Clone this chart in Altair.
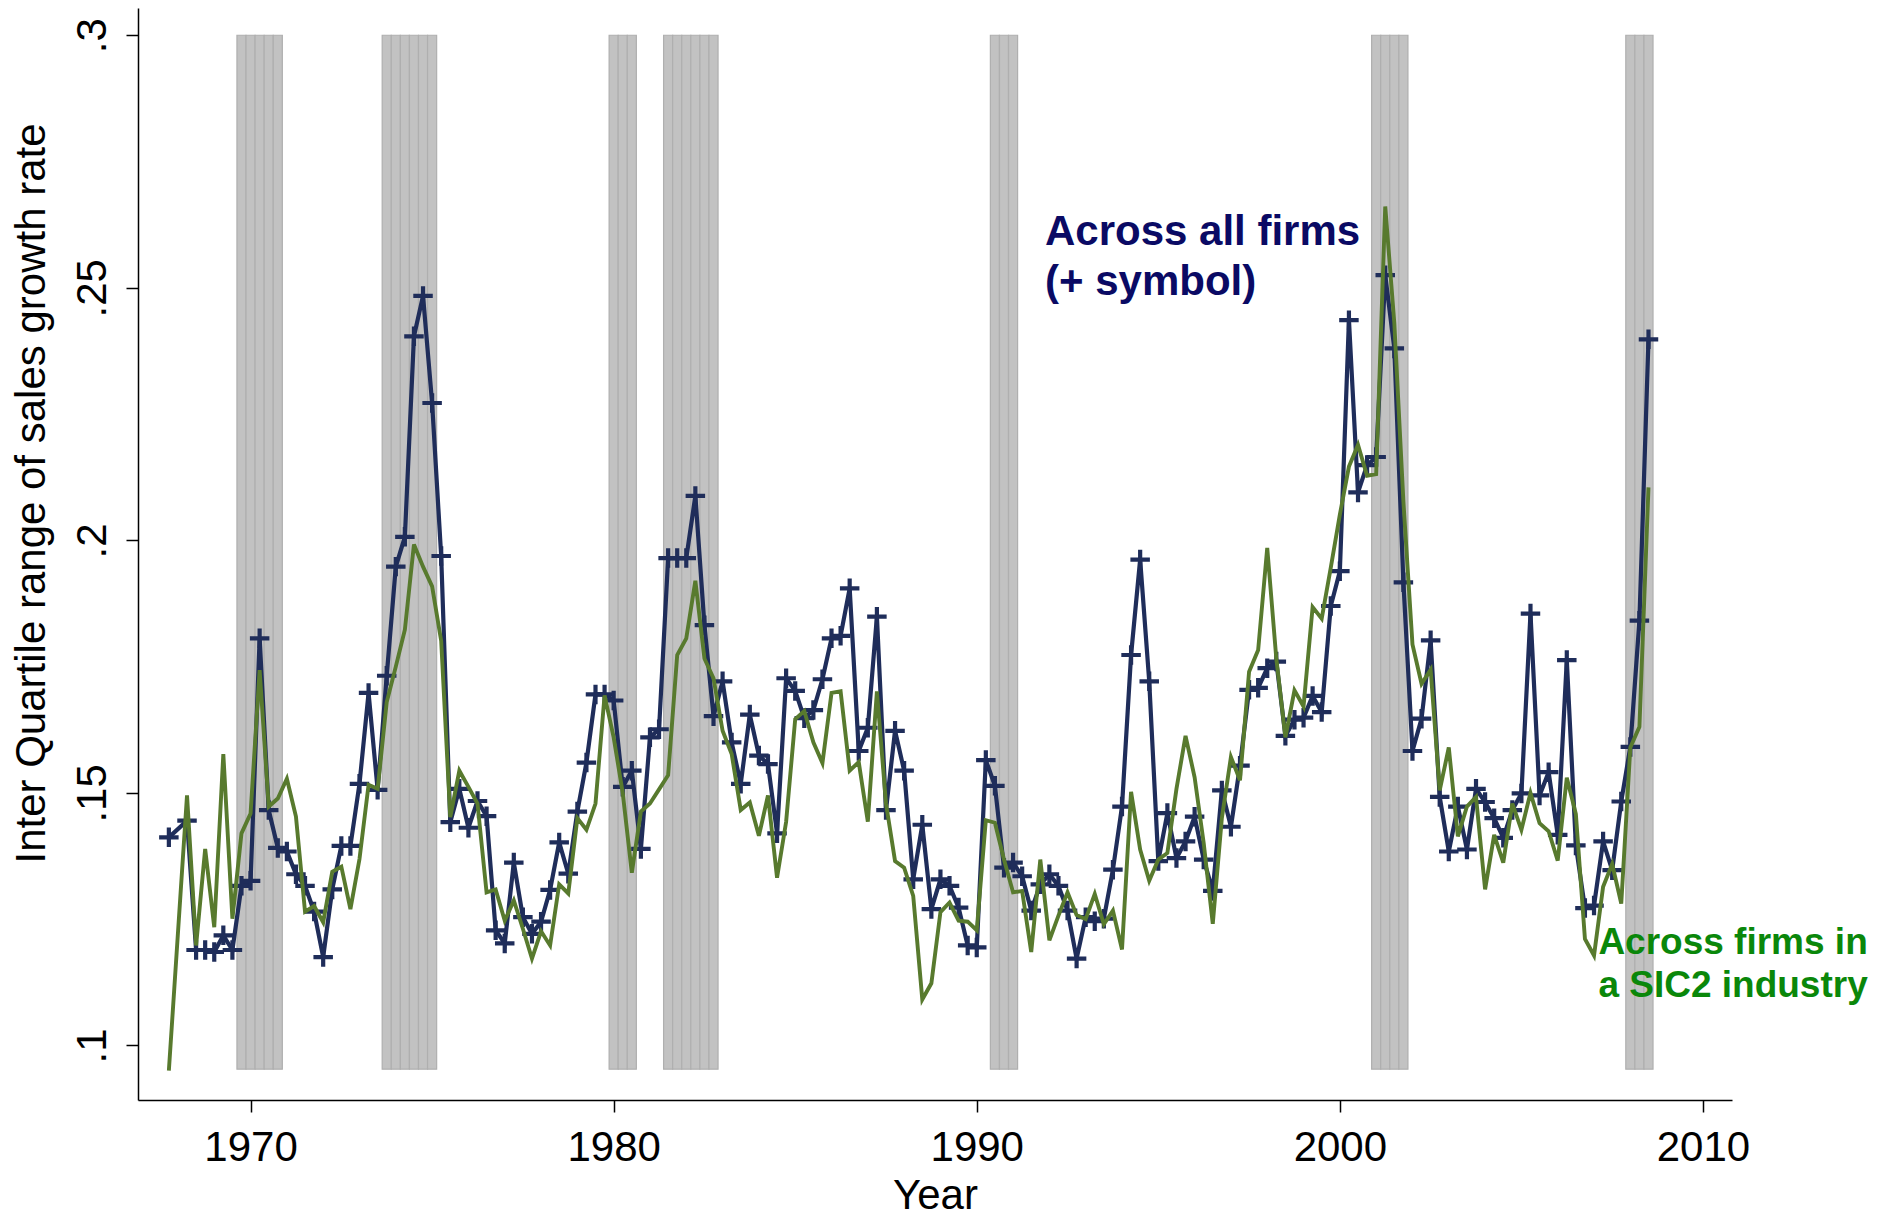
import altair as alt
import pandas as pd

# ---------------- data ----------------
quarter_labels = ["1967q4"] + [
    f"{y}q{q}" for y in range(1968, 2009) for q in (1, 2, 3, 4)
    if not (y == 1968 and q == 1) and not (y == 2008 and q == 4)
]

iqr_all_firms = [
    0.1412,                                   # 1967
    0.1445, 0.1189, 0.1189,                   # 1968 q2-q4
    0.1185, 0.1218, 0.1189, 0.1316,           # 1969
    0.1326, 0.1806, 0.1466, 0.1391,           # 1970
    0.1384, 0.1339, 0.1316, 0.1265,           # 1971
    0.1175, 0.1309, 0.1395, 0.1395,           # 1972
    0.1518, 0.1698, 0.1506, 0.1732,           # 1973
    0.1948, 0.2007, 0.2404, 0.2484,           # 1974
    0.2272, 0.1969, 0.1442, 0.1508,           # 1975
    0.1431, 0.1484, 0.1454, 0.1228,           # 1976
    0.1202, 0.1362, 0.1254, 0.1221,           # 1977
    0.1245, 0.1308, 0.1402, 0.1340,           # 1978
    0.1463, 0.1560, 0.1695, 0.1695,           # 1979
    0.1683, 0.1512, 0.1544, 0.1389,           # 1980
    0.1610, 0.1626, 0.1965, 0.1965,           # 1981
    0.1965, 0.2088, 0.1832, 0.1652,           # 1982
    0.1721, 0.1600, 0.1518, 0.1655,           # 1983
    0.1574, 0.1557, 0.1420, 0.1727,           # 1984
    0.1702, 0.1648, 0.1664, 0.1725,           # 1985
    0.1806, 0.1811, 0.1905, 0.1583,           # 1986
    0.1629, 0.1849, 0.1466, 0.1623,           # 1987
    0.1544, 0.1329, 0.1437, 0.1270,           # 1988
    0.1329, 0.1316, 0.1273, 0.1198,           # 1989
    0.1194, 0.1565, 0.1514, 0.1352,           # 1990
    0.1362, 0.1335, 0.1267, 0.1319,           # 1991
    0.1339, 0.1316, 0.1267, 0.1172,           # 1992
    0.1254, 0.1246, 0.1251, 0.1348,           # 1993
    0.1473, 0.1773, 0.1962, 0.1721,           # 1994
    0.1365, 0.1460, 0.1371, 0.1404,           # 1995
    0.1453, 0.1368, 0.1306, 0.1505,           # 1996
    0.1433, 0.1554, 0.1704, 0.1708,           # 1997
    0.1747, 0.1760, 0.1613, 0.1645,           # 1998
    0.1649, 0.1692, 0.1660, 0.1870,           # 1999
    0.1939, 0.2436, 0.2095, 0.2149,           # 2000
    0.2165, 0.2525, 0.2380, 0.1917,           # 2001
    0.1583, 0.1647, 0.1802, 0.1492,           # 2002
    0.1384, 0.1473, 0.1388, 0.1508,           # 2003
    0.1482, 0.1450, 0.1411, 0.1466,           # 2004
    0.1499, 0.1855, 0.1495, 0.1541,           # 2005
    0.1417, 0.1763, 0.1396, 0.1272,           # 2006
    0.1277, 0.1404, 0.1347, 0.1483,           # 2007
    0.1591, 0.1841, 0.2398,                   # 2008 q1-q3
]

iqr_sic2 = [
    0.0950,                                   # 1967
    0.1495, 0.1198, 0.1389,                   # 1968 q2-q4
    0.1234, 0.1577, 0.1251, 0.1420,           # 1969
    0.1459, 0.1743, 0.1473, 0.1489,           # 1970
    0.1528, 0.1453, 0.1265, 0.1276,           # 1971
    0.1244, 0.1344, 0.1354, 0.1270,           # 1972
    0.1369, 0.1516, 0.1508, 0.1680,           # 1973
    0.1750, 0.1823, 0.1992, 0.1948,           # 1974
    0.1909, 0.1801, 0.1452, 0.1544,           # 1975
    0.1512, 0.1479, 0.1303, 0.1309,           # 1976
    0.1247, 0.1287, 0.1231, 0.1172,           # 1977
    0.1226, 0.1198, 0.1319, 0.1301,           # 1978
    0.1450, 0.1427, 0.1479, 0.1693,           # 1979
    0.1610, 0.1500, 0.1342, 0.1463,           # 1980
    0.1479, 0.1507, 0.1535, 0.1773,           # 1981
    0.1806, 0.1920, 0.1766, 0.1727,           # 1982
    0.1623, 0.1577, 0.1466, 0.1481,           # 1983
    0.1415, 0.1495, 0.1332, 0.1443,           # 1984
    0.1646, 0.1662, 0.1600, 0.1559,           # 1985
    0.1698, 0.1701, 0.1544, 0.1561,           # 1986
    0.1443, 0.1701, 0.1479, 0.1365,           # 1987
    0.1352, 0.1296, 0.1091, 0.1123,           # 1988
    0.1264, 0.1283, 0.1247, 0.1245,           # 1989
    0.1228, 0.1446, 0.1441, 0.1368,           # 1990
    0.1303, 0.1306, 0.1185, 0.1368,           # 1991
    0.1208, 0.1257, 0.1303, 0.1258,           # 1992
    0.1250, 0.1300, 0.1240, 0.1267,           # 1993
    0.1190, 0.1502, 0.1388, 0.1326,           # 1994
    0.1368, 0.1381, 0.1508, 0.1613,           # 1995
    0.1531, 0.1401, 0.1241, 0.1450,           # 1996
    0.1571, 0.1525, 0.1740, 0.1783,           # 1997
    0.1985, 0.1766, 0.1610, 0.1703,           # 1998
    0.1671, 0.1868, 0.1845, 0.1946,           # 1999
    0.2051, 0.2146, 0.2189, 0.2128,           # 2000
    0.2131, 0.2661, 0.2430, 0.2077,           # 2001
    0.1794, 0.1716, 0.1744, 0.1505,           # 2002
    0.1590, 0.1414, 0.1473, 0.1492,           # 2003
    0.1309, 0.1417, 0.1362, 0.1479,           # 2004
    0.1427, 0.1500, 0.1440, 0.1424,           # 2005
    0.1366, 0.1530, 0.1458, 0.1211,           # 2006
    0.1178, 0.1314, 0.1359, 0.1281,           # 2007
    0.1590, 0.1631, 0.2105,                   # 2008 q1-q3
]

recession_quarters = [
    "1969q4", "1970q1", "1970q2", "1970q3", "1970q4",
    "1973q4", "1974q1", "1974q2", "1974q3", "1974q4", "1975q1",
    "1980q1", "1980q2", "1980q3",
    "1981q3", "1981q4", "1982q1", "1982q2", "1982q3", "1982q4",
    "1990q3", "1990q4", "1991q1",
    "2001q1", "2001q2", "2001q3", "2001q4",
    "2008q1", "2008q2", "2008q3",
]

x_ticks = [1970, 1980, 1990, 2000, 2010]
y_ticks = [0.10, 0.15, 0.20, 0.25, 0.30]

label_all_lines = ["Across all firms", "(+ symbol)"]
label_all_x = [1991.88, 1991.88]
label_all_y = [0.2611, 0.2511]

label_sic_lines = ["Across firms in", "a SIC2 industry"]
label_sic_x = [2007.12, 2007.12]
label_sic_y = [0.1203, 0.1117]

# ---------------- build tables ----------------
def qpos(label):
    y, q = label.split("q")
    return int(y) + (int(q) - 1) / 4.0

df = pd.DataFrame({
    "t": [qpos(s) for s in quarter_labels],
    "all": iqr_all_firms,
    "sic2": iqr_sic2,
})
rec = pd.DataFrame({"t": [qpos(s) for s in recession_quarters]})
rec["t0"] = rec["t"] - 0.125
rec["t1"] = rec["t"] + 0.125

lab_all = pd.DataFrame({"x": label_all_x, "y": label_all_y, "txt": label_all_lines})
lab_sic = pd.DataFrame({"x": label_sic_x, "y": label_sic_y, "txt": label_sic_lines})

FONT = "Liberation Sans"
NAVY_LINE = "#1f2d5a"
GREEN_LINE = "#587a2e"
X_TITLE = "Year"
Y_TITLE = "Inter Quartile range of sales growth rate"

xscale = alt.Scale(domain=[1966.9, 2010.8], nice=False, zero=False)
yscale = alt.Scale(domain=[0.0892, 0.3054], nice=False, zero=False)

x_axis = alt.Axis(
    values=x_ticks, format="d", title=X_TITLE, grid=False,
    tickSize=12, tickWidth=1.5, domainWidth=1.5,
    domainColor="black", tickColor="black", labelColor="black", titleColor="black",
    labelFont=FONT, titleFont=FONT, labelFontSize=42, titleFontSize=42,
    titleFontWeight="normal", labelPadding=15, labelFlush=False,
    titleY=108, titleBaseline="alphabetic",
)
y_axis = alt.Axis(
    values=y_ticks, labelExpr="substring(format(datum.value, '.2~f'), 1)",
    title=Y_TITLE, grid=False,
    tickSize=12, tickWidth=1.5, domainWidth=1.5,
    domainColor="black", tickColor="black", labelColor="black", titleColor="black",
    labelFont=FONT, titleFont=FONT, labelFontSize=42, titleFontSize=42,
    titleFontWeight="normal", labelAngle=270, labelAlign="center",
    labelBaseline="alphabetic", labelPadding=21, labelFlush=False,
    titleAngle=270, titleAlign="center", titleBaseline="alphabetic",
    titleX=-94, titleY=485,
)


def X(field):
    return alt.X(field, type="quantitative", scale=xscale, axis=x_axis, title=X_TITLE)


def Y(field):
    return alt.Y(field, type="quantitative", scale=yscale, axis=y_axis, title=Y_TITLE)


bands = alt.Chart(rec).mark_rect(
    fill="#c2c2c2", stroke="#afafaf", strokeWidth=1.2
).encode(
    x=X("t0"),
    x2="t1:Q",
    y=alt.Y(datum=0.3, type="quantitative", scale=yscale, axis=y_axis, title=Y_TITLE),
    y2=alt.datum(0.0953),
)

line_all = alt.Chart(df).mark_line(color=NAVY_LINE, strokeWidth=4.2).encode(
    x=X("t"), y=Y("all"),
)
pts_all = alt.Chart(df).mark_point(
    shape="M-1,0H1M0,-1V1", size=380, filled=False,
    stroke=NAVY_LINE, strokeWidth=4.2, opacity=1,
).encode(
    x=X("t"), y=Y("all"),
)
line_sic = alt.Chart(df).mark_line(color=GREEN_LINE, strokeWidth=3.9).encode(
    x=X("t"), y=Y("sic2"),
)

txt_all = alt.Chart(lab_all).mark_text(
    align="left", baseline="middle", font=FONT, fontSize=42,
    fontWeight="bold", color="#0a0a64",
).encode(
    x=X("x"), y=Y("y"), text="txt:N",
)
txt_sic = alt.Chart(lab_sic).mark_text(
    align="left", baseline="middle", font=FONT, fontSize=37,
    fontWeight="bold", color="#0a870a",
).encode(
    x=X("x"), y=Y("y"), text="txt:N",
)

chart = alt.layer(bands, line_all, pts_all, line_sic, txt_all, txt_sic).properties(
    width=1594, height=1092,
    autosize=alt.AutoSizeParams(type="none"),
    padding={"left": 130, "top": 0, "right": 137, "bottom": 118},
    background="white",
).configure_view(stroke=None)

chart.save("out.html", embed_options={"renderer": "svg", "actions": False})
